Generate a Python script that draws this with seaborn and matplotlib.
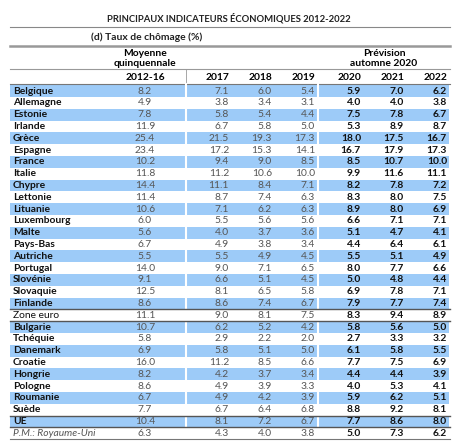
import matplotlib
matplotlib.use("Agg")
import matplotlib.pyplot as plt
from matplotlib.colors import ListedColormap
import numpy as np
import seaborn as sns

countries = ["Belgique", "Allemagne", "Estonie", "Irlande", "Grèce", "Espagne", "France",
             "Italie", "Chypre", "Lettonie", "Lituanie", "Luxembourg", "Malte", "Pays-Bas",
             "Autriche", "Portugal", "Slovénie", "Slovaquie", "Finlande", "Zone euro",
             "Bulgarie", "Tchéquie", "Danemark", "Croatie", "Hongrie", "Pologne",
             "Roumanie", "Suède", "UE", "P.M.: Royaume-Uni"]
avg_2012_16 = [8.2, 4.9, 7.8, 11.9, 25.4, 23.4, 10.2, 11.8, 14.4, 11.4, 10.6, 6.0, 5.6, 6.7,
               5.5, 14.0, 9.1, 12.5, 8.6, 11.1, 10.7, 5.8, 6.9, 16.0, 8.2, 8.6, 6.7, 7.7, 10.4, 6.3]
y2017 = [7.1, 3.8, 5.8, 6.7, 21.5, 17.2, 9.4, 11.2, 11.1, 8.7, 7.1, 5.5, 4.0, 4.9,
         5.5, 9.0, 6.6, 8.1, 8.6, 9.0, 6.2, 2.9, 5.8, 11.2, 4.2, 4.9, 4.9, 6.7, 8.1, 4.3]
y2018 = [6.0, 3.4, 5.4, 5.8, 19.3, 15.3, 9.0, 10.6, 8.4, 7.4, 6.2, 5.6, 3.7, 3.8,
         4.9, 7.1, 5.1, 6.5, 7.4, 8.1, 5.2, 2.2, 5.1, 8.5, 3.7, 3.9, 4.2, 6.4, 7.2, 4.0]
y2019 = [5.4, 3.1, 4.4, 5.0, 17.3, 14.1, 8.5, 10.0, 7.1, 6.3, 6.3, 5.6, 3.6, 3.4,
         4.5, 6.5, 4.5, 5.8, 6.7, 7.5, 4.2, 2.0, 5.0, 6.6, 3.4, 3.3, 3.9, 6.8, 6.7, 3.8]
y2020 = [5.9, 4.0, 7.5, 5.3, 18.0, 16.7, 8.5, 9.9, 8.2, 8.3, 8.9, 6.6, 5.1, 4.4,
         5.5, 8.0, 5.0, 6.9, 7.9, 8.3, 5.8, 2.7, 6.1, 7.7, 4.4, 4.0, 5.9, 8.8, 7.7, 5.0]
y2021 = [7.0, 4.0, 7.8, 8.9, 17.5, 17.9, 10.7, 11.6, 7.8, 8.0, 8.0, 7.1, 4.7, 6.4,
         5.1, 7.7, 4.8, 7.8, 7.7, 9.4, 5.6, 3.3, 5.8, 7.5, 4.4, 5.3, 6.2, 9.2, 8.6, 7.3]
y2022 = [6.2, 3.8, 6.7, 8.7, 16.7, 17.3, 10.0, 11.1, 7.2, 7.5, 6.9, 7.1, 4.1, 6.1,
         4.9, 6.6, 4.4, 7.1, 7.4, 8.9, 5.0, 3.2, 5.5, 6.9, 3.9, 4.1, 5.1, 8.1, 8.0, 6.2]
years = ["2017", "2018", "2019", "2020", "2021", "2022"]

W, H = 459, 444
fig = plt.figure(figsize=(W / 100, H / 100), dpi=100)
plt.rcParams["font.family"] = ["Lato", "DejaVu Sans"]

# row geometry (pixels)
y_first, pitch = 91.0, 11.8
n = len(countries)
band_top = y_first - pitch / 2
band_bot = y_first + (n - 1) * pitch + pitch / 2

# alternating blue rows drawn with a seaborn heatmap
shade = np.array([[1 - (i % 2)] for i in range(n)])
hax = fig.add_axes([10 / W, 1 - band_bot / H, (449 - 10) / W, (band_bot - band_top) / H])
sns.heatmap(shade, ax=hax, cmap=ListedColormap(["white", "#9dcbf8"]), cbar=False,
            xticklabels=False, yticklabels=False, vmin=0, vmax=1)
hax.set_zorder(0)

ax = fig.add_axes([0, 0, 1, 1])
ax.set_xlim(0, W)
ax.set_ylim(H, 0)
ax.axis("off")
ax.patch.set_alpha(0)
ax.set_zorder(1)

fs = 7.4
ax.text(229, 18, "PRINCIPAUX INDICATEURS ÉCONOMIQUES 2012-2022", ha="center", va="center",
        fontsize=6.8, fontweight="bold", color="#222222")
ax.plot([10, 450], [27.5, 27.5], color="#888888", lw=0.8)
ax.text(91, 37.5, "(d) Taux de chômage (%)", ha="left", va="center", fontsize=fs,
        fontweight="bold", color="#222222")
ax.plot([10, 450], [46.5, 46.5], color="#999999", lw=1.8)

ax.text(145, 53, "Moyenne", ha="center", va="center", fontsize=fs, fontweight="bold")
ax.text(145, 64, "quinquennale", ha="center", va="center", fontsize=fs, fontweight="bold")
ax.text(384, 53, "Prévision", ha="center", va="center", fontsize=fs, fontweight="bold")
ax.text(384, 64, "automne 2020", ha="center", va="center", fontsize=fs, fontweight="bold")
ax.plot([10, 450], [69.5, 69.5], color="#999999", lw=0.8)
ax.plot([185.5, 185.5], [69.5, 84], color="#999999", lw=0.6)

ax.text(145, 77, "2012-16", ha="center", va="center", fontsize=fs, fontweight="bold")
right_x = [229, 272, 315, 361, 404, 447]
for x, yr in zip(right_x, years):
    ax.text(x, 77, yr, ha="right", va="center", fontsize=fs, fontweight="bold")
ax.plot([10, 450], [84, 84], color="#777777", lw=0.8)

cols = [y2017, y2018, y2019, y2020, y2021, y2022]
for i, name in enumerate(countries):
    y = y_first + i * pitch
    if name.startswith("P.M."):
        ax.text(13, y, name, ha="left", va="center", fontsize=fs, style="italic", color="#555555")
    elif name == "Zone euro":
        ax.text(13, y, name, ha="left", va="center", fontsize=fs, color="#111111")
    else:
        ax.text(13, y, name, ha="left", va="center", fontsize=fs, fontweight="bold", color="#111111")
    ax.text(145, y, f"{avg_2012_16[i]:.1f}", ha="center", va="center", fontsize=fs, color="#555555")
    for j, (x, c) in enumerate(zip(right_x, cols)):
        if j < 3:
            ax.text(x, y, f"{c[i]:.1f}", ha="right", va="center", fontsize=fs, color="#555555")
        else:
            ax.text(x, y, f"{c[i]:.1f}", ha="right", va="center", fontsize=fs,
                    fontweight="bold", color="#111111")

# white gaps between column groups
for x in [185.5, 318]:
    ax.plot([x, x], [84.5, band_bot], color="white", lw=1.5)

# separators around aggregates
ze = countries.index("Zone euro")
ue = countries.index("UE")
for idx in [ze, ue]:
    top = y_first + (idx - 0.5) * pitch
    bot = y_first + (idx + 0.5) * pitch
    ax.plot([10, 450], [top, top], color="#555555", lw=1.0)
    ax.plot([10, 450], [bot, bot], color="#555555", lw=1.0)
ax.plot([10, 450], [band_bot, band_bot], color="#777777", lw=0.8)

fig.savefig("out.png", dpi=100)
